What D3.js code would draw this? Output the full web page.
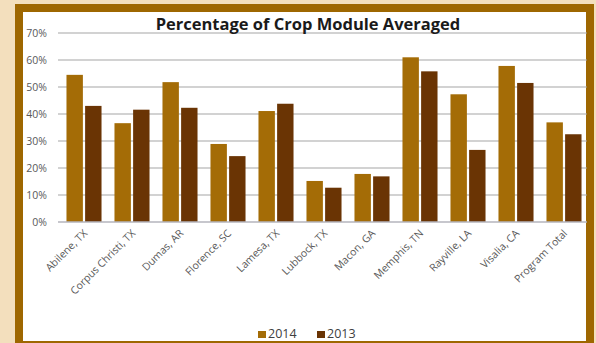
<!DOCTYPE html>
<html>
<head>
<meta charset="utf-8">
<script src="https://cdn.jsdelivr.net/npm/d3@7"></script>
<style>
  body { margin: 0; background: #f3dfbd; }
  svg { display: block; font-family: "Open Sans", sans-serif; }
</style>
</head>
<body>
<svg id="chart"></svg>
<script>
const width = 596;
const height = 343;

const sites = ["Abilene, TX", "Corpus Christi, TX", "Dumas, AR", "Florence, SC", "Lamesa, TX",
  "Lubbock, TX", "Macon, GA", "Memphis, TN", "Rayville, LA", "Visalia, CA", "Program Total"];
const years = ["2014", "2013"];
const pct2014 = [54.5, 36.6, 51.8, 28.9, 41.1, 15.2, 17.8, 61.0, 47.3, 57.8, 36.9];
const pct2013 = [43.0, 41.6, 42.3, 24.4, 43.8, 12.7, 16.9, 55.8, 26.7, 51.5, 32.5];
const yTicks = [0, 10, 20, 30, 40, 50, 60, 70];

const colors = { "2014": "#a46c06", "2013": "#6a3404" };
const font = "'Open Sans', sans-serif";

const rows = sites.map((s, i) => ({ site: s, "2014": pct2014[i], "2013": pct2013[i] }));

const svg = d3.select("#chart")
  .attr("width", width)
  .attr("height", height);

// frame
svg.append("rect")
  .attr("x", 19).attr("y", 8)
  .attr("width", 571).attr("height", 337)
  .attr("fill", "#fff")
  .attr("stroke", "#9e6700")
  .attr("stroke-width", 8);

const x = d3.scaleBand()
  .domain(sites)
  .range([60, 588])
  .paddingInner(0.27)
  .paddingOuter(0.135);

const x1 = d3.scaleBand()
  .domain(years)
  .range([0, x.bandwidth()])
  .paddingInner(0.12);

const y = d3.scaleLinear()
  .domain([0, 70])
  .range([222, 33]);

// gridlines
svg.append("g")
  .selectAll("line")
  .data(yTicks.slice(1))
  .join("line")
  .attr("x1", 58).attr("x2", 587)
  .attr("y1", d => y(d)).attr("y2", d => y(d))
  .attr("stroke", "#a6a6a6")
  .attr("stroke-width", 1.2);

// y axis labels
const yAxis = d3.axisLeft(y)
  .tickValues(yTicks)
  .tickSize(0)
  .tickPadding(0)
  .tickFormat(d => d + "%");

svg.append("g")
  .attr("transform", "translate(47,0)")
  .call(yAxis)
  .attr("font-family", font)
  .call(g => g.select(".domain").remove())
  .selectAll("text")
  .attr("fill", "#595959")
  .attr("font-size", 10.5);

// bars
svg.append("g")
  .selectAll("g")
  .data(rows)
  .join("g")
  .attr("transform", d => `translate(${x(d.site)},0)`)
  .selectAll("rect")
  .data(d => years.map(k => ({ key: k, value: d[k] })))
  .join("rect")
  .attr("x", d => x1(d.key))
  .attr("y", d => y(d.value))
  .attr("width", x1.bandwidth())
  .attr("height", d => y(0) - y(d.value))
  .attr("fill", d => colors[d.key]);

// x axis
const xAxis = d3.axisBottom(x).tickSize(0).tickPadding(0);
svg.append("g")
  .attr("transform", `translate(0,${y(0)})`)
  .call(xAxis)
  .attr("font-family", font)
  .call(g => g.select(".domain")
    .attr("d", "M58,0H587")
    .attr("stroke", "#b4b4bc")
    .attr("stroke-width", 1.5))
  .selectAll("text")
  .attr("fill", "#595959")
  .attr("font-size", 10.5)
  .attr("text-anchor", "end")
  .attr("dy", 0)
  .attr("transform", "translate(4,12) rotate(-45)");

// title
svg.append("text")
  .attr("x", 308).attr("y", 30)
  .attr("text-anchor", "middle")
  .attr("font-size", 16.5)
  .attr("font-weight", "bold")
  .attr("fill", "#1a1a1a")
  .text("Percentage of Crop Module Averaged");

// legend
const legend = svg.append("g")
  .attr("transform", "translate(258,338)")
  .selectAll("g")
  .data(years)
  .join("g")
  .attr("transform", (d, i) => `translate(${i * 59},0)`);

legend.append("rect")
  .attr("x", 0).attr("y", -7)
  .attr("width", 8).attr("height", 7)
  .attr("fill", d => colors[d]);

legend.append("text")
  .attr("x", 10).attr("y", 0)
  .attr("font-size", 12.5)
  .attr("fill", "#404040")
  .text(d => d);
</script>
</body>
</html>
